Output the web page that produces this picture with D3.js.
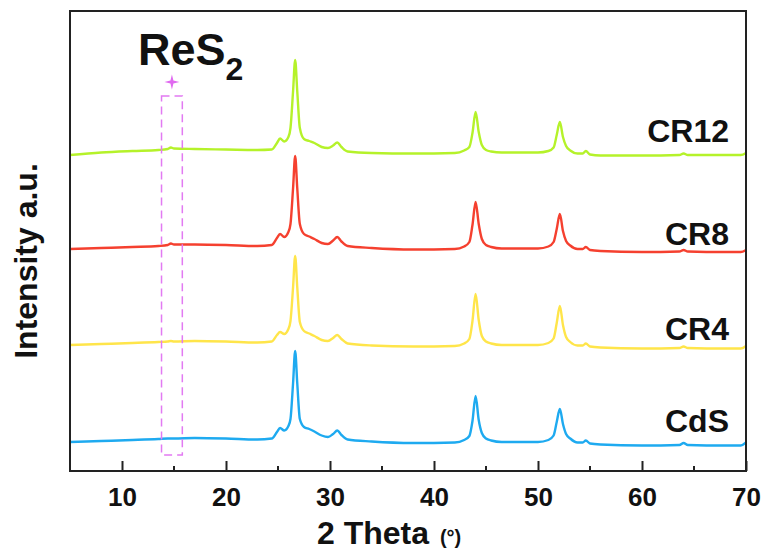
<!DOCTYPE html>
<html>
<head>
<meta charset="utf-8">
<script src="https://cdn.jsdelivr.net/npm/d3@7"></script>
<style>
  body { margin: 0; background: #fff; }
  text { font-family: "Liberation Sans", Arial, sans-serif; }
</style>
</head>
<body>
<div id="chart"></div>
<script>
// 2 theta positions shared by all patterns
var theta = [5, 8, 11, 13.5, 14.4, 14.7, 15, 17, 20, 23,
	24.4, 24.9, 25.2, 25.6, 26.0, 26.2, 26.45, 26.65, 26.85, 27.1,
	27.5, 28.0, 28.5, 29.2, 29.8, 30.3, 30.7, 31.1, 31.7, 34,
	38, 42, 42.9, 43.4, 43.7, 44.0, 44.3, 44.6, 45.0, 45.5, 46.5, 50,
	51.0, 51.5, 51.8, 52.1, 52.4, 52.7, 53.1, 53.8, 54.3, 54.6, 55.0,
	56, 60, 63.6, 64.0, 64.4, 68, 69.5, 70];

// intensities (stacked, a.u.)
var cds = [29, 30, 31, 32, 32.5, 32.5, 32.5, 33, 32.5, 31.5,
	32.5, 39, 43, 40.5, 45, 52, 88, 120, 88, 52,
	44, 42, 39.5, 35.5, 34, 37, 40.5, 36, 31.5, 29.5,
	28, 28.5, 31, 35, 50, 75, 51, 38, 32.5, 30.5, 29, 29,
	31, 35.5, 49, 62, 47, 37, 32.5, 28.5, 28.5, 30.5, 27.5,
	26.5, 25.5, 26, 28, 26, 25.5, 25.5, 28.5];

var cr4 = [126, 127, 128, 129, 129.5, 130, 129.5, 130, 129.5, 128.5,
	129.5, 136, 139, 137, 142, 150, 184, 215, 184, 149,
	140, 137.5, 135, 131, 130, 133, 136, 132, 127.5, 125.5,
	124.5, 125, 127.5, 132, 150, 177, 151, 135, 129.5, 127.5, 126, 126,
	128, 132.5, 148, 165, 146, 134, 129, 125.5, 125.5, 127.5, 124.5,
	123.5, 122.5, 123, 124.5, 123, 122.5, 122.5, 125];

var cr8 = [222, 223, 224, 225, 226, 227.5, 226.5, 226.5, 226, 225,
	226, 233, 237, 234, 239, 247, 283, 315, 283, 247,
	237, 234.5, 232, 228, 227, 230.5, 234, 229.5, 225, 223,
	221.5, 222, 224.5, 229, 246, 269, 247, 232, 226, 224, 222.5, 222.5,
	224.5, 229, 242, 257, 240, 230, 225.5, 222, 222, 224, 221,
	220, 219, 219.5, 221, 219.5, 219, 219, 221];

var cr12 = [316, 318.5, 320, 321, 322, 323.5, 322.5, 322, 321.5, 321,
	321.5, 328, 332.5, 329.5, 334, 343, 380, 411, 380, 343,
	332, 330, 328, 324, 323, 325.5, 328.5, 324, 319.5, 318,
	317.5, 318, 320.5, 324, 338, 359, 339, 326, 321, 319.5, 318.5, 318.5,
	320, 323.5, 336, 349, 334, 325, 320.5, 317.5, 317.5, 320, 316.5,
	315.5, 315.5, 316, 317.5, 316, 316, 316, 318];

var names = ["CdS", "CR4", "CR8", "CR12"];
var series = [cds, cr4, cr8, cr12];
var colors = ["#1eaaf0", "#ffe54a", "#f5402f", "#b5f22a"];
var labelLevel = [39, 131, 226, 329];

var xTicks = [10, 20, 30, 40, 50, 60, 70];
var xMinor = [15, 25, 35, 45, 55, 65];

// ReS2 marker region
var resBox = {x0: 13.8, x1: 15.8, y0: 16, y1: 375};
var resStar = {x: 14.8, y: 389};

var W = 766, H = 551;
var margin = {top: 11, right: 20, bottom: 80, left: 70};
var width = W - margin.left - margin.right,
	height = H - margin.top - margin.bottom;

var x = d3.scaleLinear().domain([5, 70]).range([0, width]);
var y = d3.scaleLinear().domain([0, 460]).range([height, 0]);

var svg = d3.select("#chart").append("svg")
	.attr("width", W)
	.attr("height", H)
  .append("g")
	.attr("transform", "translate(" + margin.left + "," + margin.top + ")");

svg.append("clipPath").attr("id", "clip")
	.append("rect").attr("width", width).attr("height", height);

var line = d3.line()
	.x(function(d) { return x(d[0]); })
	.y(function(d) { return y(d[1]); })
	.curve(d3.curveMonotoneX);

series.forEach(function(s, i) {
	var pts = theta.map(function(t, j) { return [t, s[j]]; });
	svg.append("path")
		.datum(pts)
		.attr("clip-path", "url(#clip)")
		.attr("fill", "none")
		.attr("stroke", colors[i])
		.attr("stroke-width", 2.4)
		.attr("stroke-linejoin", "round")
		.attr("d", line);

	svg.append("text")
		.attr("x", width - 17)
		.attr("y", y(labelLevel[i]))
		.attr("text-anchor", "end")
		.attr("font-size", "32px")
		.attr("font-weight", "bold")
		.attr("fill", "#111")
		.text(names[i]);
});

// dashed box for ReS2
svg.append("rect")
	.attr("x", x(resBox.x0))
	.attr("y", y(resBox.y1))
	.attr("width", x(resBox.x1) - x(resBox.x0))
	.attr("height", y(resBox.y0) - y(resBox.y1))
	.attr("fill", "none")
	.attr("stroke", "#e27af2")
	.attr("stroke-width", 1.5)
	.attr("stroke-dasharray", "8,5");

// four point sparkle
var sparkle = {
	draw: function(ctx, size) {
		var r = Math.sqrt(size), k = r * 0.2;
		ctx.moveTo(0, -r);
		ctx.lineTo(k, -k); ctx.lineTo(r, 0); ctx.lineTo(k, k);
		ctx.lineTo(0, r); ctx.lineTo(-k, k); ctx.lineTo(-r, 0); ctx.lineTo(-k, -k);
		ctx.closePath();
	}
};
svg.append("path")
	.attr("transform", "translate(" + x(resStar.x) + "," + y(resStar.y) + ")")
	.attr("d", d3.symbol().type(sparkle).size(56)())
	.attr("fill", "#e06af0");

var res = svg.append("text")
	.attr("x", 68)
	.attr("y", 54)
	.attr("font-size", "45px")
	.attr("font-weight", "bold")
	.attr("fill", "#111");
res.append("tspan").text("ReS");
res.append("tspan").attr("font-size", "32px").attr("dy", 15).text("2");

// frame
svg.append("rect")
	.attr("width", width)
	.attr("height", height)
	.attr("fill", "none")
	.attr("stroke", "#222")
	.attr("stroke-width", 2);

// x axis
var xAxis = svg.append("g")
	.attr("transform", "translate(0," + height + ")")
	.call(d3.axisBottom(x).tickValues(xTicks).tickSize(-10).tickPadding(17).tickFormat(d3.format("d")))
	.call(g => g.select(".domain").remove());
xAxis.selectAll(".tick line").attr("stroke", "#222").attr("stroke-width", 2);
xAxis.selectAll(".tick text")
	.attr("font-size", "26px")
	.attr("font-weight", "bold")
	.attr("fill", "#111")
	.style("font-family", "Liberation Sans, Arial, sans-serif");

svg.append("g")
	.selectAll("line")
	.data(xMinor)
	.enter()
	.append("line")
	.attr("x1", d => x(d))
	.attr("x2", d => x(d))
	.attr("y1", height)
	.attr("y2", height - 5)
	.attr("stroke", "#222")
	.attr("stroke-width", 2);

// axis titles
var xt = svg.append("text")
	.attr("x", 247)
	.attr("y", 533)
	.attr("font-size", "32px")
	.attr("font-weight", "bold")
	.attr("fill", "#111");
xt.append("tspan").text("2 Theta ");
xt.append("tspan").attr("font-size", "20px").attr("dx", 2).text("(°)");

svg.append("text")
	.attr("transform", "translate(-33," + 250 + ") rotate(-90)")
	.attr("text-anchor", "middle")
	.attr("font-size", "32px")
	.attr("font-weight", "bold")
	.attr("fill", "#111")
	.text("Intensity a.u.");
</script>
</body>
</html>
